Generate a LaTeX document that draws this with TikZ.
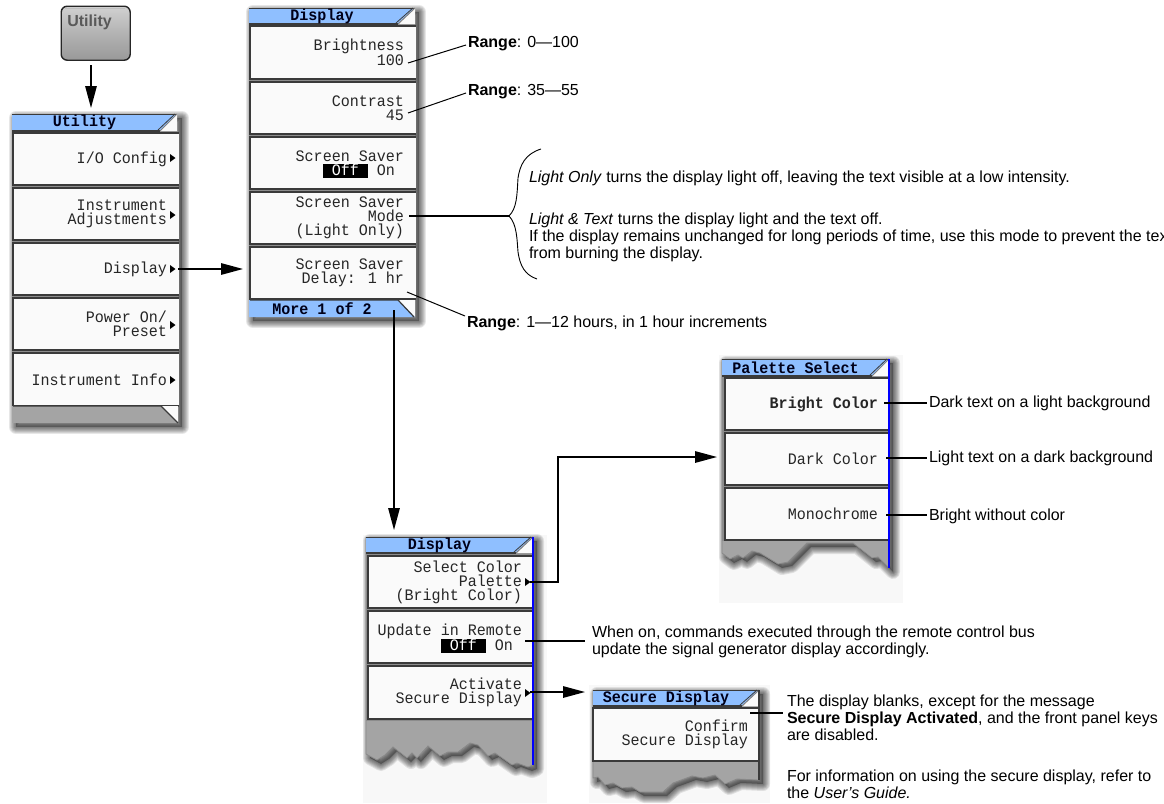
\documentclass[tikz,border=0pt]{standalone}
\usepackage{fontspec}
\setmainfont{Liberation Sans}
\newfontfamily\menufont[FakeStretch=0.94]{Liberation Mono}
\usetikzlibrary{arrows.meta,calc}
\definecolor{panelbg}{HTML}{F8F8F8}
\definecolor{titleblue}{HTML}{8FBFFF}
\definecolor{barblue}{HTML}{0000FF}
\definecolor{footgray}{HTML}{A4A4A4}
\definecolor{btnfill}{HTML}{FAFAFA}
\definecolor{edgedark}{HTML}{3A3A3A}
\definecolor{gapgray}{HTML}{8C8C8C}
\tikzset{
  x=1pt,y=-1pt,
  conn/.style={draw=black,line width=1.4pt},
  thinconn/.style={draw=black,line width=1pt},
  flow/.style={conn,-{Triangle[length=22pt,width=11.5pt]}},
  menubtn/.style={draw=edgedark,line width=1.2pt,fill=btnfill,anchor=north west,inner sep=0pt,outer sep=0pt,
    font={\menufont\fontsize{16}{14}\selectfont},text=black!85},
  menuframe/.style={anchor=north west,inner sep=0pt,outer sep=0pt},
  menutitle/.style={inner sep=0pt,font={\menufont\bfseries\fontsize{16}{14}\selectfont},text=black!90!blue},
  note/.style={anchor=base west,inner sep=0pt,outer sep=0pt,align=left,font={\fontsize{16}{17}\selectfont},text=black},
}
\newcommand{\softshadow}[1]{%
  \foreach \w in {14,12,10,8,6,4,2}{%
    \draw[line width=\w pt,black,opacity=.095,line join=round,xshift=4pt,yshift=-4pt] #1;}%
  \fill[black,opacity=.3,xshift=4pt,yshift=-4pt] #1;}
\newcommand{\frameNode}[5]{%
  \pgfmathsetmacro\fw{#4-#2}\pgfmathsetmacro\fh{#5-#3}%
  \node[menuframe,minimum width=\fw pt,minimum height=\fh pt] (#1) at (#2,#3) {};}
\newcommand{\btn}[6]{% name,x0,y0,x1,y1,text
  \pgfmathsetmacro\bw{#4-#2}\pgfmathsetmacro\bh{#5-#3}\pgfmathsetmacro\tw{#4-#2-11}%
  \node[menubtn,minimum width=\bw pt,minimum height=\bh pt] (#1) at (#2,#3) {\begin{minipage}{\tw pt}\raggedleft #6\end{minipage}\kern11pt};}
\newcommand{\titlebar}[6]{% name,x0,y0,x1,y1,text
  \fill[titleblue] (#2,#3) -- (#4,#3) -- ({#4-17},#5) -- (#2,#5) -- cycle;
  \fill[btnfill] (#4,#3) -- (#4,#5) -- ({#4-17},#5) -- cycle;
  \draw[edgedark,line width=1pt] (#2,#3) -- (#4,#3);
  \draw[edgedark,line width=1.4pt] (#2,#5) -- ({#4-17},#5);
  \draw[gray,line width=1pt] ({#4-17},#5) -- (#4,#3);
  \draw[edgedark,line width=.8pt] ({#4-19},{#5-1}) -- ({#4-2},#3);
  \node[menutitle] (#1) at ({(#2+#4-20)/2},{(#3+#5)/2}) {#6};}
\newcommand{\caret}[2]{\fill[black] (#1,{#2-4}) -- ({#1+5.5},#2) -- (#1,{#2+4}) -- cycle;}
\newcommand{\offon}{\smash{\colorbox{black}{\rule[-2.5pt]{0pt}{12.5pt}\textcolor{white}{\ Off\ }}}\ On\kern9pt}
\begin{document}
\begin{tikzpicture}
\useasboundingbox (0,0) rectangle (1164,803);
\fboxsep=0pt
% light panels
\fill[panelbg] (363,535) rectangle (547,803);
\fill[panelbg] (719,355) rectangle (903,603);
\fill[panelbg] (589,685) rectangle (770,803);

% front panel key
\node[draw=black!85,line width=1.4pt,rounded corners=6pt,top color=black!18,bottom color=black!40,middle color=black!30,
      minimum width=69pt,minimum height=54pt,inner sep=0pt,anchor=north west] (key) at (60.5,5.5) {};
\draw[white!75!black,line width=1pt] (65,8) -- (125,8);
\node[inner sep=0pt,font={\bfseries\fontsize{16}{14}\selectfont},text=black!65] (keylabel) at (89.5,22) {Utility};
\coordinate (keyfoot) at (91,60);

% ---------- Utility menu
\def\pu{(12,114) -- (178,114) -- (178,423) -- (12,423) -- cycle}
\softshadow{\pu}
\frameNode{umenu}{12}{114}{178}{423}
\fill[gapgray] (12,131) rectangle (178,408);
\titlebar{ut}{12}{114}{177}{131}{Utility}
\btn{u1}{13}{133}{178}{185}{I/O Config}
\btn{u2}{13}{188}{178}{240}{Instrument\\Adjustments}
\btn{u3}{13}{243}{178}{295}{Display}
\btn{u4}{13}{298}{178}{350}{Power On/\\Preset}
\btn{u5}{13}{353}{178}{406}{Instrument Info}
\fill[footgray] (12,406) -- (161,406) -- (178,423) -- (12,423) -- cycle;
\fill[btnfill] (161,406) -- (178,406) -- (178,423) -- cycle;
\draw[edgedark,line width=1.2pt] (13,406) -- (161,406) -- (178,423);
\draw[btnfill,line width=1.2pt] (178,134) -- (178,184);
\draw[btnfill,line width=1.2pt] (178,189) -- (178,239);
\draw[btnfill,line width=1.2pt] (178,244) -- (178,294);
\draw[btnfill,line width=1.2pt] (178,299) -- (178,349);
\draw[btnfill,line width=1.2pt] (178,354) -- (178,405);
\caret{170}{158}\caret{170}{215}\caret{170}{269}\caret{170}{325}\caret{170}{380}

% ---------- Display menu 1
\def\pd{(249,8) -- (415,8) -- (415,317) -- (249,317) -- cycle}
\softshadow{\pd}
\frameNode{dmenu}{249}{8}{415}{317}
\fill[gapgray] (249,24) rectangle (415,301);
\titlebar{dt}{249}{8}{415}{24}{Display}
\btn{d1}{250}{26}{415}{79}{Brightness\\100}
\btn{d2}{250}{82}{415}{134}{Contrast\\45}
\btn{d3}{250}{137}{415}{189}{Screen Saver\\\offon}
\btn{d4}{250}{192}{415}{244}{Screen Saver\\Mode\\(Light Only)}
\btn{d5}{250}{247}{415}{299}{Screen Saver\\Delay: 1 hr}
\fill[titleblue] (249,300) -- (398,300) -- (415,317) -- (249,317) -- cycle;
\fill[btnfill] (398,300) -- (415,300) -- (415,317) -- cycle;
\draw[edgedark,line width=1.2pt] (250,300) -- (398,300) -- (414,317);
\draw[btnfill,line width=1.2pt] (415,27) -- (415,78);
\draw[btnfill,line width=1.2pt] (415,83) -- (415,133);
\draw[btnfill,line width=1.2pt] (415,138) -- (415,188);
\draw[btnfill,line width=1.2pt] (415,193) -- (415,243);
\draw[btnfill,line width=1.2pt] (415,248) -- (415,298);
\node[menutitle] (dmore) at (322,309) {More 1 of 2};

% ---------- Display menu 2
\def\pe{(366,537) -- (533,537) -- (533,765) -- (528,767) -- (517,763) -- (512,765) -- (495,753) -- (488,756) -- (478,745) -- (470,743) -- (458,752) -- (448,752) -- (440,756) -- (428,746) -- (417,758) -- (412,753) -- (407,758) -- (393,747) -- (385,755) -- (377,760) -- (366,754) -- cycle}
\softshadow{\pe}
\fill[footgray] \pe;
\draw[edgedark!60,line width=.8pt] (366,537) -- (366,754) -- (377,760) -- (385,755) -- (393,747) -- (407,758) -- (412,753) -- (417,758) -- (428,746) -- (440,756) -- (448,752) -- (458,752) -- (470,743) -- (478,745) -- (488,756) -- (495,753) -- (512,765) -- (517,763) -- (528,767) -- (533,765);
\frameNode{emenu}{366}{537}{533}{765}
\fill[gapgray] (366,553) rectangle (533,721);
\titlebar{et}{366}{537}{533}{553}{Display}
\btn{e1}{368}{556}{533}{608}{Select Color\\Palette\\(Bright Color)}
\btn{e2}{368}{611}{533}{663}{Update in Remote\\\offon}
\btn{e3}{368}{666}{533}{719}{Activate\\Secure Display}
\draw[barblue,line width=2pt] (533,537) -- (533,765);

% ---------- Palette menu
\def\pp{(722,359) -- (889,359) -- (889,568) -- (878,557) -- (872,558) -- (853,543) -- (807,543) -- (788,562) -- (778,564) -- (760,553) -- (752,551) -- (743,558) -- (738,555) -- (730,559) -- (722,553) -- cycle}
\softshadow{\pp}
\fill[footgray] \pp;
\draw[edgedark!60,line width=.8pt] (722,359) -- (722,553) -- (730,559) -- (738,555) -- (743,558) -- (752,551) -- (760,553) -- (778,564) -- (788,562) -- (807,543) -- (853,543) -- (872,558) -- (878,557) -- (889,568);
\frameNode{pmenu}{722}{359}{889}{568}
\fill[gapgray] (722,375) rectangle (889,541);
\titlebar{pt}{722}{359}{889}{376}{Palette Select}
\btn{p1}{725}{378}{889}{430}{\textbf{Bright Color}}
\btn{p2}{725}{433}{889}{485}{Dark Color}
\btn{p3}{725}{488}{889}{540}{Monochrome}
\draw[barblue,line width=2pt] (889,359) -- (889,568);

% ---------- Secure display menu
\def\ps{(593,690) -- (759,690) -- (759,780) -- (737,779) -- (725,784) -- (715,775) -- (703,778) -- (692,776) -- (673,783) -- (663,792) -- (640,792) -- (632,787) -- (622,788) -- (613,783) -- (605,785) -- (598,777) -- (593,778) -- cycle}
\softshadow{\ps}
\fill[footgray] \ps;
\draw[edgedark!60,line width=.8pt] (593,690) -- (593,778) -- (598,777) -- (605,785) -- (613,783) -- (622,788) -- (632,787) -- (640,792) -- (663,792) -- (673,783) -- (692,776) -- (703,778) -- (715,775) -- (725,784) -- (737,779) -- (759,780);
\frameNode{smenu}{593}{690}{759}{780}
\titlebar{st}{593}{690}{759}{706}{Secure Display}
\btn{s1}{593}{708}{759}{761}{Confirm\\Secure Display}
\draw[edgedark,line width=1.4pt] (759,690) -- (759,780);

% ---------- notes
\node[note] (r1) at (468,47) {\textbf{Range}: 0—100};
\node[note] (r2) at (468,95) {\textbf{Range}: 35—55};
\node[note] (r3) at (467,327) {\textbf{Range}: 1—12 hours, in 1 hour increments};
\node[note] (m1) at (529,182) {\textit{Light Only} turns the display light off, leaving the text visible at a low intensity.};
\node[note,anchor=north west] (m2) at (529,213) {\textit{Light \& Text} turns the display light and the text off.\\If the display remains unchanged for long periods of time, use this mode to prevent the tex\\from burning the display.};
\node[note] (c1) at (929,407) {Dark text on a light background};
\node[note] (c2) at (929,462) {Light text on a dark background};
\node[note] (c3) at (929,520) {Bright without color};
\node[note,anchor=north west] (w1) at (592,625.5) {When on, commands executed through the remote control bus\\update the signal generator display accordingly.};
\node[note,anchor=north west] (v1) at (787,695) {The display blanks, except for the message\\\textbf{Secure Display Activated}, and the front panel keys\\are disabled.};
\node[note,anchor=north west] (v2) at (787,770) {For information on using the secure display, refer to\\the \textit{User’s Guide.}};

% ---------- connectors
\coordinate (brightend) at (408,63);
\coordinate (contrastend) at (408,113);
\coordinate (delayend) at (407,292);
\coordinate (modeend) at (409,216);
\coordinate (bracetip) at (509,216);
\coordinate (moreend) at (394,310);
\coordinate (palfrom) at (530,582);
\coordinate (palbend) at (558,457);
\coordinate (actfrom) at (530,692);
\coordinate (r1p) at (466,45);
\coordinate (r2p) at (466,93);
\coordinate (r3p) at (465,316);
\coordinate (p1a) at (884,403);
\coordinate (p2a) at (886,458);
\coordinate (p3a) at (886,515);
\coordinate (c1p) at (927,403);
\coordinate (upa) at (525,641);
\coordinate (upb) at (585,641);
\coordinate (sea) at (750,713);
\coordinate (seb) at (783,713);

\draw[flow,shorten <=5pt,shorten >=6pt] (keyfoot) -- (keyfoot |- umenu.north);
\draw[flow,shorten >=6pt] (u3.east) -- (u3.east -| dmenu.west);
\draw[flow,shorten >=7pt] (moreend) -- (moreend |- emenu.north);
\draw[flow,shorten >=5pt] (palfrom) -| (palbend) -- (palbend -| pmenu.west);
\draw[flow,shorten >=8pt] (actfrom) -- (actfrom -| smenu.west);
\caret{525}{582}\caret{525}{693}
\draw[thinconn] (brightend) -- (r1p);
\draw[thinconn] (contrastend) -- (r2p);
\draw[thinconn] (delayend) -- (r3p);
\draw[conn] (modeend) -- (bracetip);
\draw[conn] (p1a) -- (c1p);
\draw[conn] (p2a) -- (p2a -| c1p);
\draw[conn] (p3a) -- (p3a -| c1p);
\draw[conn] (upa) -- (upb);
\draw[conn] (sea) -- (seb);
\draw[black,line width=.9pt] (541,149) .. controls (525,154) and (520,165) .. (518,178) .. controls (517,195) and (517,208) .. (bracetip) .. controls (517,224) and (517,240) .. (518,252) .. controls (520,266) and (525,275) .. (537,279);
\end{tikzpicture}
\end{document}
